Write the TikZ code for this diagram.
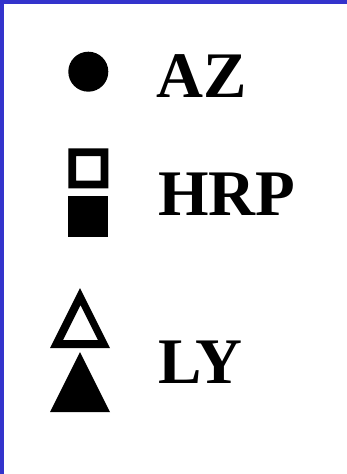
\documentclass[tikz,border=0pt]{standalone}
\usepackage{fontspec}
\setmainfont{Liberation Serif}
\usetikzlibrary{positioning}
\definecolor{frameblue}{RGB}{51,51,204}

\begin{document}
\begin{tikzpicture}[x=1pt,y=-1pt,
      lbl/.style={font=\fontsize{65}{65}\selectfont\bfseries,anchor=base west,inner sep=0pt}]
    \useasboundingbox (0,0) rectangle (347,474);
    \fill[white] (0,0) rectangle (347,474);
    % frame
    \fill[frameblue] (0,0) rectangle (347,4);
    \fill[frameblue] (0,0) rectangle (4,474);
    % AZ
    \fill (88.3,71.7) circle (20);
    \node[lbl] (az) at (156,97) {AZ};
    % HRP
    \fill[even odd rule] (68.3,148.3) rectangle (108.3,188.3) (76,156) rectangle (100.7,180.7);
    \fill (68.3,196.3) rectangle (108.3,236.7);
    \node[lbl] (hrp) at (158,215) {HRP};
    % LY
    \fill[even odd rule] (50,348) -- (80,288) -- (110,348) -- cycle
      (63,340) -- (80.5,305) -- (98,340) -- cycle;
    \fill (50,412) -- (80,352) -- (110,412) -- cycle;
    \node[lbl] (ly) at (158,383) {LY};
  \end{tikzpicture}
\end{document}
